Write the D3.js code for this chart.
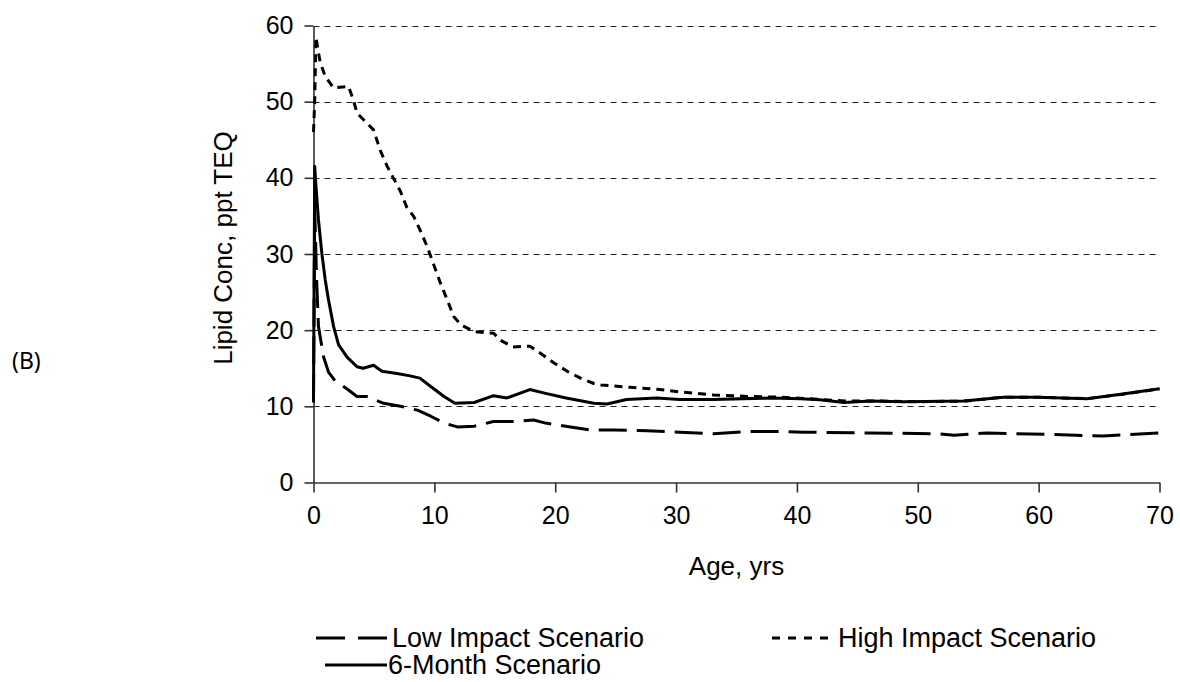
<!DOCTYPE html>
<html>
<head>
<meta charset="utf-8">
<script src="https://cdn.jsdelivr.net/npm/d3@7"></script>
<style>
  body { margin: 0; background: #fff; }
  svg text { font-family: "Liberation Sans", Arial, sans-serif; fill: #000; }
</style>
</head>
<body>
<div id="frame"></div>
<script>
const width = 1180
const height = 682
const margin = { top: 25.5, right: 20, bottom: 199, left: 313.5 }

// ages (yrs) and lipid concentrations (ppt TEQ)
const lowImpact = [
  [0, 10.5], [0.1, 36], [0.25, 27], [0.41, 20.5], [0.83, 16.5], [1.24, 14.5], [1.8, 13.3],
  [2.76, 12.3], [3.6, 11.3], [4.4, 11.3], [5.8, 10.4], [7.2, 10.0], [8.6, 9.5], [9.7, 8.7],
  [10.8, 7.8], [11.9, 7.3], [13.3, 7.4], [14.9, 8.0], [16.5, 8.0], [18.2, 8.2], [19.2, 7.8],
  [21, 7.35], [22.9, 6.9], [24.9, 6.9], [27.6, 6.8], [30.3, 6.6], [33.1, 6.4], [35.9, 6.7],
  [38.6, 6.7], [40.6, 6.6], [46, 6.5], [51.6, 6.4], [53, 6.2], [55.7, 6.5], [61.2, 6.3],
  [65.3, 6.1], [70, 6.5]
]

const highImpact = [
  [0, 46], [0.1, 50], [0.2, 58.5], [0.35, 57], [0.55, 55.2], [0.97, 53.3], [1.66, 51.8],
  [2.9, 52], [3.3, 50.2], [3.6, 48.5], [4.4, 47.2], [4.97, 46.3], [5.5, 43.7], [6.1, 41.5],
  [6.6, 40], [7.2, 38.2], [7.7, 36.2], [8.3, 34.9], [8.8, 33.2], [9.4, 31], [9.9, 28.8],
  [10.5, 26.2], [11.06, 24], [11.6, 21.8], [12.2, 20.7], [13.3, 19.8], [14.9, 19.6],
  [15.45, 18.7], [16.5, 17.8], [17.9, 17.9], [18.75, 17.0], [19.9, 15.7], [21, 14.6],
  [22.1, 13.7], [23.2, 13], [23.8, 12.8], [26.2, 12.5], [28.4, 12.25], [30.3, 11.9],
  [33.1, 11.5], [35.9, 11.3], [38.6, 11.2], [41, 11.0], [44, 10.7], [47, 10.7], [50, 10.6],
  [54, 10.7], [57, 11.2], [60, 11.2], [64, 11.0], [67, 11.6], [70, 12.3]
]

const sixMonth = [
  [0, 11], [0.1, 41.5], [0.2, 39], [0.41, 34.5], [0.69, 30.1], [0.97, 26.6], [1.24, 24],
  [1.66, 20.5], [2.07, 18.1], [2.76, 16.5], [3.6, 15.2], [4.1, 15.0], [4.97, 15.4],
  [5.66, 14.6], [6.9, 14.3], [8.0, 14.0], [8.8, 13.7], [9.7, 12.6], [10.8, 11.3],
  [11.7, 10.4], [13.3, 10.5], [14.9, 11.4], [16, 11.1], [17.9, 12.2], [19.2, 11.7],
  [20.9, 11.1], [23.2, 10.4], [24.3, 10.3], [25.9, 10.9], [28.4, 11.1], [30.3, 10.9],
  [33.1, 10.9], [37.8, 11.1], [40.3, 11.0], [41.9, 10.85], [43.9, 10.5], [46.1, 10.7],
  [48.8, 10.6], [53.8, 10.7], [57.1, 11.2], [59.9, 11.2], [64, 11.0], [66.8, 11.6], [70, 12.3]
]

const xTicks = [0, 10, 20, 30, 40, 50, 60, 70]
const yTicks = [0, 10, 20, 30, 40, 50, 60]

const series = [
  { name: 'High Impact Scenario', data: highImpact, dash: '8,6' },
  { name: '6-Month Scenario', data: sixMonth, dash: null },
  { name: 'Low Impact Scenario', data: lowImpact, dash: '28,10' }
]

const svg = d3.select('#frame')
  .append('svg')
  .attr('width', width)
  .attr('height', height)

const x = d3.scaleLinear().domain([0, 70]).range([margin.left, 1159.5])
const y = d3.scaleLinear().domain([0, 60]).range([482.5, margin.top])

// gridlines
svg.append('g')
  .selectAll('line')
  .data(yTicks.filter(d => d > 0))
  .join('line')
  .attr('x1', x(0))
  .attr('x2', x(70))
  .attr('y1', d => Math.round(y(d)) + 0.5)
  .attr('y2', d => Math.round(y(d)) + 0.5)
  .attr('stroke', '#222')
  .attr('stroke-width', 1)
  .attr('stroke-dasharray', '6,5')

// axes
const yAxis = svg.append('g')
  .attr('transform', `translate(${x(0)},0)`)
  .call(d3.axisLeft(y).tickValues(yTicks).tickSize(9).tickSizeOuter(0).tickPadding(11))
const xAxis = svg.append('g')
  .attr('transform', `translate(0,${y(0)})`)
  .call(d3.axisBottom(x).tickValues(xTicks).tickSize(10).tickSizeOuter(0).tickPadding(14))

;[yAxis, xAxis].forEach(g => {
  g.selectAll('path, line').attr('stroke', '#333').attr('stroke-width', 1.6)
  g.selectAll('text')
    .style('font-family', '"Liberation Sans", Arial, sans-serif')
    .style('font-size', '25px')
    .attr('fill', '#000')
})

// series
const line = d3.line()
  .x(d => x(d[0]))
  .y(d => y(d[1]))

svg.append('g')
  .selectAll('path')
  .data(series)
  .join('path')
  .attr('d', d => line(d.data))
  .attr('fill', 'none')
  .attr('stroke', '#000')
  .attr('stroke-width', 3)
  .attr('stroke-linejoin', 'round')
  .attr('stroke-dasharray', d => d.dash)

// axis titles
svg.append('text')
  .attr('x', (x(0) + x(70)) / 2)
  .attr('y', 575)
  .attr('text-anchor', 'middle')
  .style('font-size', '26px')
  .text('Age, yrs')

svg.append('text')
  .attr('transform', 'translate(232,248) rotate(-90)')
  .attr('text-anchor', 'middle')
  .style('font-size', '26px')
  .text('Lipid Conc, ppt TEQ')

svg.append('text')
  .attr('x', 12)
  .attr('y', 369)
  .style('font-family', '"Noto Sans", sans-serif')
  .style('font-size', '23px')
  .text('(B)')

// legend
const legendItems = [
  { s: series[2], x1: 316, x2: 387, ty: 647, lx: 392 },
  { s: series[0], x1: 772, x2: 833, ty: 647, lx: 838 },
  { s: series[1], x1: 325, x2: 387, ty: 674, lx: 388 }
]

const legend = svg.append('g')
legend.selectAll('line')
  .data(legendItems)
  .join('line')
  .attr('x1', d => d.x1)
  .attr('x2', d => d.x2)
  .attr('y1', d => d.ty - 9)
  .attr('y2', d => d.ty - 9)
  .attr('stroke', '#000')
  .attr('stroke-width', 3)
  .attr('stroke-dasharray', d => d.s.dash === '28,10' ? '29,13' : d.s.dash === '8,6' ? '8,8' : null)

legend.selectAll('text')
  .data(legendItems)
  .join('text')
  .attr('x', d => d.lx)
  .attr('y', d => d.ty)
  .style('font-size', '27px')
  .text(d => d.s.name)
</script>
</body>
</html>
